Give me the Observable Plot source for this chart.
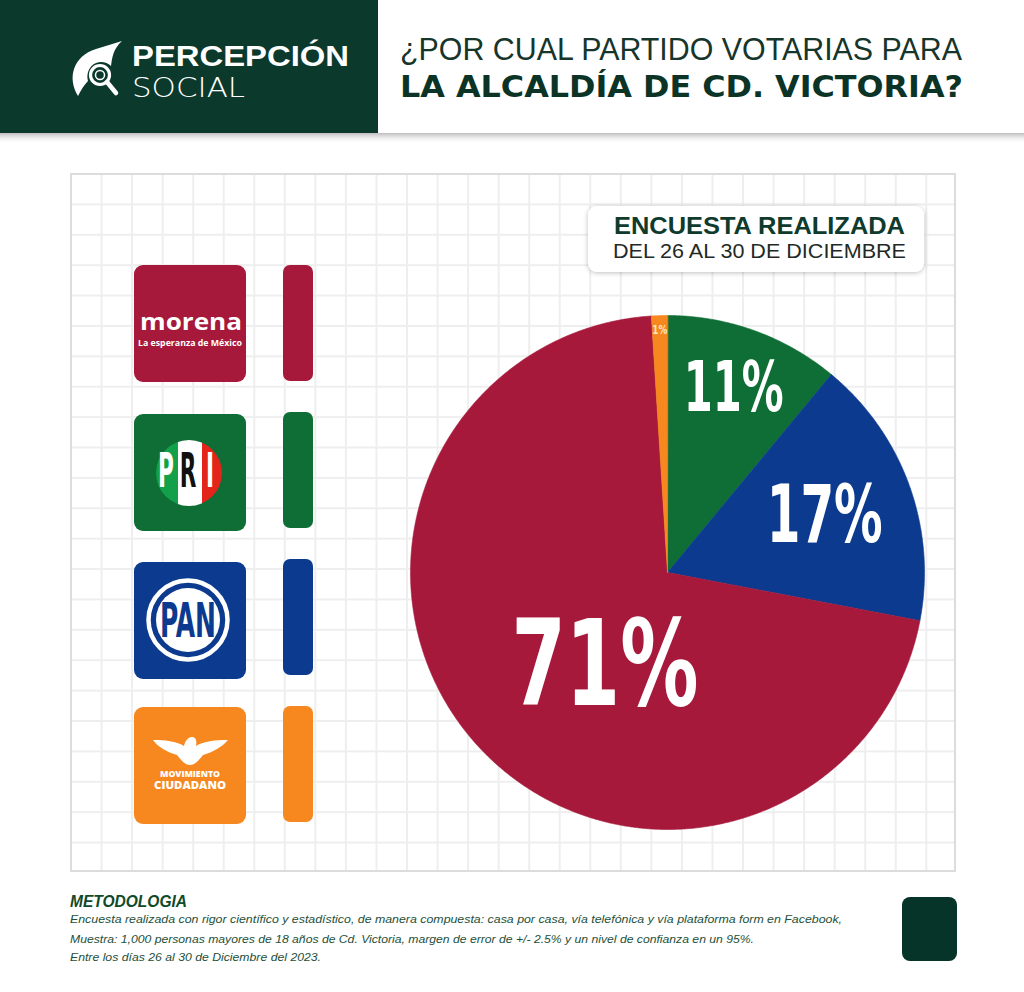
<!DOCTYPE html>
<html>
<head>
<meta charset="utf-8">
<script src="https://cdn.jsdelivr.net/npm/d3@7"></script>
<script src="https://cdn.jsdelivr.net/npm/@observablehq/plot@0.6"></script>
<style>
html,body{margin:0;padding:0;background:#fff;}
#page{position:relative;width:1024px;height:992px;overflow:hidden;background:#fff;font-family:"Open Sans",sans-serif;}
#panel{position:absolute;left:70px;top:173px;width:882px;height:695px;border:2px solid #dcdcdc;background-color:#fff;
  background-image:linear-gradient(to right,#eeeeee 0,#eeeeee 1.5px,transparent 1.5px),linear-gradient(to bottom,#eeeeee 0,#eeeeee 1.5px,transparent 1.5px);
  background-size:30.55px 30.4px;background-position:-2px -2px;}
#deco{position:absolute;left:0;top:0;}
#pie{position:absolute;left:400px;top:305px;}
#bars{position:absolute;left:283px;top:265px;}
</style>
</head>
<body>
<div id="page">
  <div id="panel"></div>
  <svg id="deco" width="1024" height="992" viewBox="0 0 1024 992">
    <defs>
      <linearGradient id="shadow" x1="0" y1="0" x2="0" y2="1">
        <stop offset="0" stop-color="#bdbdbd"/>
        <stop offset="1" stop-color="#ffffff" stop-opacity="0"/>
      </linearGradient>
      <filter id="ds" x="-10%" y="-30%" width="120%" height="160%">
        <feDropShadow dx="0" dy="1" stdDeviation="2.5" flood-color="#000" flood-opacity="0.25"/>
      </filter>
      <clipPath id="priclip"><circle cx="189" cy="473" r="33"/></clipPath>
    </defs>
    <!-- header -->
    <rect x="0" y="0" width="378" height="133" fill="#0b3a2c"/>
    <rect x="0" y="133" width="1024" height="11" fill="url(#shadow)"/>
    <path d="M78,96 C67,78 73,56 96,49 L122,41 C113,49 112,58 111,66 C107,62 101,61 96,63 C89,66 86,74 88,81 C84,85 81,90 78,96 Z" fill="#fff"/>
    <circle cx="100" cy="75" r="9.5" fill="#0b3a2c" stroke="#fff" stroke-width="3.2"/>
    <circle cx="100" cy="75" r="4.5" fill="none" stroke="#fff" stroke-width="1.5"/>
    <line x1="107" y1="82" x2="116" y2="93" stroke="#fff" stroke-width="4.5" stroke-linecap="round"/>
    <text x="132" y="66" font-family="Liberation Sans, sans-serif" font-weight="700" font-size="29" fill="#fff" textLength="217" lengthAdjust="spacingAndGlyphs">PERCEPCIÓN</text>
    <text x="132" y="97" font-family="DejaVu Sans, sans-serif" font-weight="200" font-size="27" fill="#fff" textLength="113" lengthAdjust="spacingAndGlyphs">SOCIAL</text>
    <text x="400" y="60" font-family="Liberation Sans, sans-serif" font-weight="400" font-size="32" fill="#16352b" textLength="562" lengthAdjust="spacingAndGlyphs">¿POR CUAL PARTIDO VOTARIAS PARA</text>
    <text x="400" y="97" font-family="DejaVu Sans, sans-serif" font-weight="700" font-size="31" fill="#0b3326" textLength="563" lengthAdjust="spacingAndGlyphs">LA ALCALDÍA DE CD. VICTORIA?</text>

    <!-- survey box -->
    <rect x="588" y="206" width="336" height="66" rx="9" fill="#fff" filter="url(#ds)"/>
    <text x="614" y="234" font-family="Liberation Sans, sans-serif" font-weight="700" font-size="23" fill="#0e3b2c" textLength="291" lengthAdjust="spacingAndGlyphs">ENCUESTA REALIZADA</text>
    <text x="613" y="258" font-family="Liberation Sans, sans-serif" font-weight="400" font-size="20.5" fill="#1f2a26" textLength="293" lengthAdjust="spacingAndGlyphs">DEL 26 AL 30 DE DICIEMBRE</text>

    <!-- morena logo -->
    <rect x="134" y="265" width="112" height="117" rx="9" fill="#a6193b"/>
    <text x="140" y="330" font-family="Open Sans, sans-serif" font-weight="700" font-size="24" fill="#fff" textLength="102" lengthAdjust="spacingAndGlyphs">morena</text>
    <text x="138" y="346" font-family="Open Sans, sans-serif" font-weight="700" font-size="8" fill="#fff" textLength="104" lengthAdjust="spacingAndGlyphs">La esperanza de México</text>

    <!-- PRI logo -->
    <rect x="134" y="414" width="112" height="117" rx="9" fill="#0f6e36"/>
    <g clip-path="url(#priclip)">
      <rect x="150" y="430" width="28" height="90" fill="#12a04a"/>
      <rect x="178" y="430" width="24" height="90" fill="#ffffff"/>
      <rect x="202" y="430" width="30" height="90" fill="#e3241b"/>
    </g>
    <text transform="translate(166,487) scale(0.5,1)" text-anchor="middle" font-family="DejaVu Sans Condensed, sans-serif" font-weight="700" font-size="48" fill="#fff">P</text>
    <text transform="translate(188,487) scale(0.5,1)" text-anchor="middle" font-family="DejaVu Sans Condensed, sans-serif" font-weight="700" font-size="48" fill="#111">R</text>
    <text transform="translate(210,487) scale(0.5,1)" text-anchor="middle" font-family="DejaVu Sans Condensed, sans-serif" font-weight="700" font-size="48" fill="#fff">I</text>

    <!-- PAN logo -->
    <rect x="134" y="562" width="112" height="117" rx="9" fill="#0c3a8e"/>
    <circle cx="188" cy="620" r="39.5" fill="none" stroke="#fff" stroke-width="4.5"/>
    <circle cx="188" cy="620" r="32" fill="#fff"/>
    <text x="188" y="637" text-anchor="middle" font-family="DejaVu Sans Condensed, sans-serif" font-weight="700" font-size="48" fill="#0c3a8e" textLength="56" lengthAdjust="spacingAndGlyphs">PAN</text>

    <!-- MC logo -->
    <rect x="134" y="707" width="112" height="117" rx="9" fill="#f7881f"/>
    <path d="M153,740 C165,740 176,741 184,746 C185,741 188,737 192,737 C196,737 197,741 196,746 C204,741 215,740 228,740 C222,747 213,752 203,755 C199,760 195,765 190,765 C185,765 181,760 177,755 C167,752 158,747 153,740 Z" fill="#fff"/>
    <text x="190" y="777" text-anchor="middle" font-family="Open Sans, sans-serif" font-weight="800" font-size="8" fill="#fff" textLength="60" lengthAdjust="spacingAndGlyphs">MOVIMIENTO</text>
    <text x="190" y="789" text-anchor="middle" font-family="Open Sans, sans-serif" font-weight="800" font-size="10" fill="#fff" textLength="72" lengthAdjust="spacingAndGlyphs">CIUDADANO</text>

    <!-- footer -->
    <text x="70" y="907" font-family="Liberation Sans, sans-serif" font-style="italic" font-weight="700" font-size="17" fill="#0f4a2a" textLength="117" lengthAdjust="spacingAndGlyphs">METODOLOGIA</text>
    <text x="70" y="923" font-family="Liberation Sans, sans-serif" font-style="italic" font-size="11.5" fill="#24503a" textLength="772" lengthAdjust="spacingAndGlyphs">Encuesta realizada con rigor científico y estadístico, de manera compuesta: casa por casa, vía telefónica y vía plataforma form en Facebook,</text>
    <text x="70" y="943" font-family="Liberation Sans, sans-serif" font-style="italic" font-size="11.5" fill="#24503a" textLength="684" lengthAdjust="spacingAndGlyphs">Muestra: 1,000 personas mayores de 18 años de Cd. Victoria, margen de error de +/- 2.5% y un nivel de confianza en un 95%.</text>
    <text x="70" y="961" font-family="Liberation Sans, sans-serif" font-style="italic" font-size="11.5" fill="#24503a" textLength="251" lengthAdjust="spacingAndGlyphs">Entre los días 26 al 30 de Diciembre del 2023.</text>
    <rect x="902" y="897" width="55" height="64" rx="8" fill="#073428"/>
  </svg>
  <div id="bars"></div>
  <div id="pie"></div>
</div>
<script>
// ---- data (clockwise from 12 o'clock) ----
const parties = ["PRI", "PAN", "Morena", "MC"];
const shares = [11, 17, 71, 1];
const sliceLabels = ["11%", "17%", "71%", "1%"];
const partyColors = ["#0f6e36", "#0c3a8e", "#a6193b", "#f7881f"];
const legendOrder = ["Morena", "PRI", "PAN", "MC"];

// ---- label styling (kept out of the data) ----
const labelStyle = {
  PRI:    {r: 0.76, da: 0,   size: 70,  w: 100, fill: "#fff"},
  PAN:    {r: 0.65, da: 0,   size: 80,  w: 116, fill: "#fff"},
  Morena: {r: 0.44, da: -15, size: 120, w: 187, fill: "#fff"},
  MC:     {r: 0.945, da: 0,  size: 13,  w: 15,  fill: "#fde7c4"}
};

const arcs = d3.pie().sort(null).value(d => d)(shares);
const pts = [];
arcs.forEach((a, i) => {
  pts.push({party: parties[i], x: 0, y: 0});
  const n = Math.max(4, Math.ceil((a.endAngle - a.startAngle) / 0.005));
  for (let k = 0; k <= n; k++) {
    const t = a.startAngle + (a.endAngle - a.startAngle) * k / n;
    pts.push({party: parties[i], x: Math.sin(t), y: Math.cos(t)});
  }
});
const labelData = arcs.map((a, i) => {
  const s = labelStyle[parties[i]];
  const t = (a.startAngle + a.endAngle) / 2 + s.da * Math.PI / 180;
  return {party: parties[i], text: sliceLabels[i], x: s.r * Math.sin(t), y: s.r * Math.cos(t)};
});

const R = 267 / 257;
const narrow = "'DejaVu Sans Condensed', 'DejaVu Sans', sans-serif";
const colorScale = {domain: parties, range: partyColors};

const pie = Plot.plot({
  width: 534, height: 534, margin: 0,
  style: {background: "transparent", overflow: "visible"},
  x: {domain: [-R, R], axis: null},
  y: {domain: [-R, R], axis: null},
  color: colorScale,
  marks: [
    Plot.line(pts, {x: "x", y: "y", z: "party", fill: "party", stroke: "party", strokeWidth: 0.6, curve: "linear-closed"}),
    ...labelData.map(d => Plot.text([d], {
      x: "x", y: "y", text: "text",
      fill: labelStyle[d.party].fill,
      fontSize: labelStyle[d.party].size,
      fontWeight: "bold",
      fontFamily: narrow,
      className: "lbl-" + d.party
    }))
  ]
});
// condense the percentage labels to the reference widths
for (const p of parties) {
  pie.querySelectorAll(".lbl-" + p + " text").forEach(t => {
    t.setAttribute("textLength", labelStyle[p].w);
    t.setAttribute("lengthAdjust", "spacingAndGlyphs");
  });
}
document.getElementById("pie").appendChild(pie);

const bars = Plot.plot({
  width: 30, height: 558, margin: 0,
  style: {background: "transparent"},
  x: {axis: null},
  y: {domain: legendOrder, axis: null, paddingInner: 0.21, paddingOuter: 0},
  color: colorScale,
  marks: [Plot.cell(legendOrder, {y: d => d, fill: d => d, rx: 7})]
});
document.getElementById("bars").appendChild(bars);
</script>
</body>
</html>
